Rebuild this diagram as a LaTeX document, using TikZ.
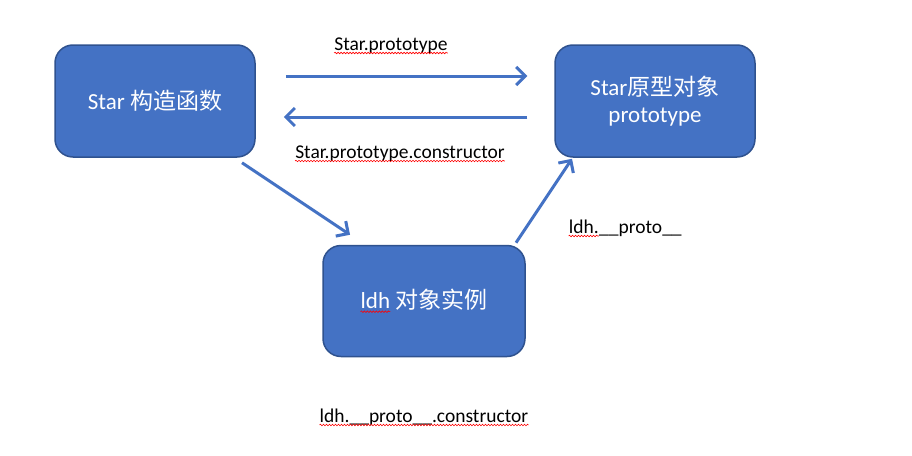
\documentclass[tikz,border=0pt]{standalone}
\usepackage{fontspec}
\usepackage{xcolor}
\usepackage{tikz}
\setmainfont{Carlito}
\newfontfamily\cjk{Noto Sans CJK SC}
\usetikzlibrary{calc}
\usetikzlibrary{arrows.meta}
\usetikzlibrary{decorations.pathmorphing}
\definecolor{boxblue}{HTML}{4472C4}
\definecolor{boxedge}{HTML}{2F528F}
\newcommand{\spell}[1]{%
\tikz[baseline=(w.base)]{\node[inner sep=0pt, anchor=base, minimum size=0pt,
    draw=none, fill=none] (w) {#1};
    \draw [red, line width=0.6pt, sharp corners, decorate,
    decoration={snake, amplitude=0.8pt, segment length=3pt}]
    ([yshift=-3pt]w.base west) -- ([yshift=-3pt]w.base east);}%
}
\tikzstyle{objbox} = [draw=boxedge, fill=boxblue, line width=1.5pt,
rounded corners=18pt, minimum width=200pt, minimum height=112pt,
text=white, align=center, font=\fontsize{23}{27}\selectfont]
\tikzstyle{link} = [draw=boxblue, line width=3pt,
-{Straight Barb[length=9pt, width=18pt]}]
\tikzstyle{lbl} = [anchor=base, inner sep=0pt, font=\fontsize{19.5}{23}\selectfont]

\begin{document}
\begin{tikzpicture}[x=1pt, y=-1pt]
        \useasboundingbox (0,0) rectangle (912,455);
        \node [objbox] (ctor) at (155,101) {Star {\cjk 构造函数}};
        \node [objbox] (proto) at (655,101) {Star{\cjk 原型对象}\\prototype};
        \node [objbox, minimum width=202pt, minimum height=111pt] (inst) at (424,301) {\spell{ldh} {\cjk 对象实例}};
        % connectors
        \draw [link] ($(ctor.east)+(30,-25)$) -- ($(proto.west)+(-27,-25)$);
        \draw [link] ($(proto.west)+(-27,16)$) -- ($(ctor.east)+(28,16)$);
        \draw [link] ($(ctor.south)+(87,5)$) -- ($(inst.north)+(-74,-10)$);
        \draw [link] ($(inst.north)+(92,-2)$) -- ($(proto.south)+(-83,1)$);
        % labels
        \node [lbl] (l1) at (391,50) {\spell{Star.prototype}};
        \node [lbl] (l2) at (400,158) {\spell{Star.prototype.constructor}};
        \node [lbl] (l3) at (625,233) {\spell{ldh.}\_\_proto\_\_};
        \node [lbl] (l4) at (424,422) {\spell{ldh.\_\_proto\_\_.constructor}};
    \end{tikzpicture}
\end{document}
